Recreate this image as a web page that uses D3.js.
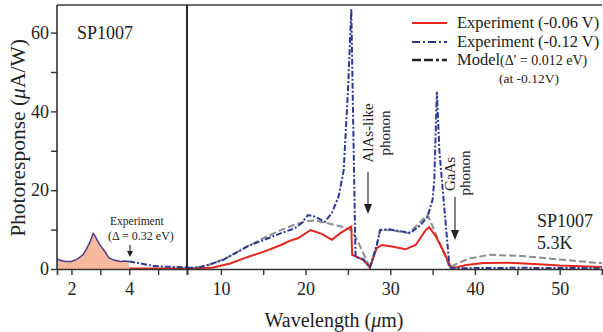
<!DOCTYPE html>
<html><head><meta charset="utf-8">
<script src="https://cdn.jsdelivr.net/npm/d3@7"></script>
<style>body{margin:0;background:#fff}svg{display:block}text{font-family:"Liberation Serif","Times New Roman",serif}</style>
</head><body>
<svg id="c" width="603" height="332"></svg>
<script>
// Left panel (short wavelength) experiment, filled region up to 4 um
const leftX = [1.5,1.6,1.8,2.0,2.2,2.4,2.55,2.65,2.75,2.8,2.9,3.0,3.15,3.3,3.5,3.7,3.85,4.0];
const leftY = [2.6,2.2,1.9,1.9,2.5,3.6,5.5,7.0,9.0,8.6,7.2,6.0,4.5,2.8,2.2,1.9,2.0,1.9];
const leftTailX = [4.0,4.4,4.8,5.2,5.6,6.0];
const leftTailY = [1.9,1.4,0.8,0.6,0.5,0.4];
const leftRedX = [4.0,6.0];
const leftRedY = [0.1,0.1];
// Right panel series
const blueX = [6.0,7.5,9.1,10.3,11.5,13.1,15.1,17.1,18.7,19.5,20.3,21.1,22.3,23.1,23.9,24.5,25.0,25.4,25.6,25.9,26.8,27.6,28.4,28.8,29.8,31.4,32.4,33.6,34.4,35.0,35.2,35.5,35.8,36.2,37.0,38,45,55];
const blueY = [0.3,0.4,1.5,2.3,3.8,5.7,7.4,9.1,10.3,11.6,13.7,13.3,12.0,14.2,18.4,25,45,66,40,3.1,2.5,0.4,6.1,9.9,10.1,9.5,9.2,11.2,13.3,17.6,22.6,45,30,20,0.4,0.2,0.3,0.2];
const redX = [6.0,7.5,9.1,11.1,13.1,15.1,17.1,18.2,19.1,20.6,21.9,23.1,24.1,25.4,25.5,26.8,27.6,28.4,29.0,30.2,31.8,33.0,34.2,34.6,35.4,36.4,37.2,38,39,41,44,47,50,55];
const redY = [0.1,0.2,0.4,1.4,3.0,4.4,6.1,7.2,7.8,9.9,8.9,7.4,9.1,10.8,3.6,2.3,0.4,5.3,6.1,5.7,5.0,6.1,9.9,10.6,8.2,4.0,0.2,0.5,1.0,1.5,1.6,1.3,0.9,0.5];
const modelX = [6.0,7,9,11,13,15,17,19,20.3,21,22.2,24.2,25.4,26.2,27.6,28.4,28.8,30.2,32.2,33.8,34.4,35.0,36.2,37.0,38,39.4,41.7,45.6,49.5,54.2,55];
const modelY = [0.1,0.3,1.3,3.2,5.6,7.8,9.8,11.5,12.2,12.3,11.8,10.8,9.9,6.9,0.4,5.7,9.9,9.8,9.1,12.5,13.7,10.8,4.8,0.4,1.5,2.7,3.6,3.3,2.5,1.6,1.5];
const leftTicks = [2,3,4,5];
const leftLabels = [2,4];
const rightTicks = [10,15,20,25,30,35,40,45,50,55];
const rightLabels = [10,20,30,40,50];
const yTicks = [0,10,20,30,40,50,60];
const yLabels = [0,20,40,60];

const svg = d3.select("#c");
const L=57, M=187, R=602, T=5, B=269;
const xL = d3.scaleLinear().domain([1.5,6]).range([L,M]);
const xR = d3.scaleLinear().domain([6,55]).range([M,R]);
const y = d3.scaleLinear().domain([0,67]).range([B,T]);

const defs = svg.append("defs");
defs.append("clipPath").attr("id","cl").append("rect").attr("x",L).attr("y",T).attr("width",M-L).attr("height",B-T);
defs.append("clipPath").attr("id","cr").append("rect").attr("x",M).attr("y",T).attr("width",R-M).attr("height",B-T);

const zip = (xs,ys)=>xs.map((d,i)=>[d,ys[i]]);
const lineL = d3.line().x(d=>xL(d[0])).y(d=>y(d[1]));
const lineR = d3.line().x(d=>xR(d[0])).y(d=>y(d[1]));
const areaL = d3.area().x(d=>xL(d[0])).y0(y(0)).y1(d=>y(d[1]));

const gl = svg.append("g").attr("clip-path","url(#cl)");
gl.append("path").attr("d",areaL(zip(leftX,leftY))).attr("fill","#f6b99d");
gl.append("path").attr("d",lineL(zip(leftRedX,leftRedY))).attr("fill","none").attr("stroke","#e3261f").attr("stroke-width",2.2);
gl.append("path").attr("d",lineL(zip(leftX,leftY))).attr("fill","none").attr("stroke","#4d3c86").attr("stroke-width",1.5);
gl.append("path").attr("d",lineL(zip(leftTailX,leftTailY))).attr("fill","none").attr("stroke","#2c3a94").attr("stroke-width",2).attr("stroke-dasharray","6,2,2,2");

const gr = svg.append("g").attr("clip-path","url(#cr)");
gr.append("path").attr("d",lineR(zip(modelX,modelY))).attr("fill","none").attr("stroke","#8d8d8d").attr("stroke-width",2).attr("stroke-dasharray","7,3");
gr.append("path").attr("d",lineR(zip(redX,redY))).attr("fill","none").attr("stroke","#e3261f").attr("stroke-width",2);
gr.append("path").attr("d",lineR(zip(blueX,blueY))).attr("fill","none").attr("stroke","#2c3a94").attr("stroke-width",2).attr("stroke-dasharray","6,2,2,2");

// frame
svg.append("line").attr("x1",L).attr("x2",R).attr("y1",T).attr("y2",T).attr("stroke","#6e6e6e").attr("stroke-width",2);
svg.append("line").attr("x1",M).attr("x2",M).attr("y1",T).attr("y2",B).attr("stroke","#111").attr("stroke-width",1.8);

// axes
const ax1 = svg.append("g").attr("transform",`translate(0,${B})`)
  .call(d3.axisBottom(xL).tickValues(leftTicks).tickFormat(d=>leftLabels.includes(d)?d:"").tickSizeOuter(0).tickSize(6));
const ax2 = svg.append("g").attr("transform",`translate(0,${B})`)
  .call(d3.axisBottom(xR).tickValues(rightTicks).tickFormat(d=>rightLabels.includes(d)?d:"").tickSizeOuter(0).tickSize(6));
const ay = svg.append("g").attr("transform",`translate(${L},0)`)
  .call(d3.axisLeft(y).tickValues(yTicks).tickFormat(d=>yLabels.includes(d)?d:"").tickSizeOuter(0).tickSize(6));
[ax1,ax2,ay].forEach(g=>{
  g.select(".domain").attr("stroke","#333").attr("stroke-width",1.6);
  g.selectAll(".tick line").attr("stroke","#333").attr("stroke-width",1.4);
  g.selectAll(".tick text").attr("font-family","Liberation Serif").attr("font-size",18).attr("fill","#222");
});
ay.select(".domain").attr("d",`M0,${B}V${T}`);
ax1.selectAll(".tick text").attr("dy","0.95em");
ax2.selectAll(".tick text").attr("dy","0.95em");
ay.selectAll(".tick text").attr("x",-8);

// axis titles
svg.append("text").attr("x",334).attr("y",327).attr("text-anchor","middle").attr("font-size",20).attr("fill","#222")
  .html('Wavelength (<tspan font-style="italic">μ</tspan>m)');
svg.append("text").attr("transform","translate(25,138) rotate(-90)").attr("text-anchor","middle").attr("font-size",21.5).attr("fill","#222")
  .html('Photoresponse (<tspan font-style="italic">μ</tspan>A/W)');

// annotations
svg.append("text").attr("x",77).attr("y",38.5).attr("font-size",18).attr("fill","#222").text("SP1007");
svg.append("text").attr("x",537).attr("y",227).attr("font-size",18).attr("fill","#222").text("SP1007");
svg.append("text").attr("x",537).attr("y",248.5).attr("font-size",18).attr("fill","#222").text("5.3K");
svg.append("text").attr("x",110).attr("y",225).attr("font-size",11.5).attr("fill","#222").text("Experiment");
svg.append("text").attr("x",108).attr("y",240).attr("font-size",12).attr("fill","#222").text("(Δ = 0.32 eV)");
svg.append("text").attr("transform","translate(373,133) rotate(-90)").attr("text-anchor","middle").attr("font-size",15).attr("fill","#222").text("AlAs-like");
svg.append("text").attr("transform","translate(390,133) rotate(-90)").attr("text-anchor","middle").attr("font-size",15).attr("fill","#222").text("phonon");
svg.append("text").attr("transform","translate(455,174) rotate(-90)").attr("text-anchor","middle").attr("font-size",15).attr("fill","#222").text("GaAs");
svg.append("text").attr("transform","translate(470,173) rotate(-90)").attr("text-anchor","middle").attr("font-size",15).attr("fill","#222").text("phonon");

function arrow(x,y1,y2,w,hl){
  svg.append("line").attr("x1",x).attr("x2",x).attr("y1",y1).attr("y2",y2-hl+1).attr("stroke","#333").attr("stroke-width",1.2);
  svg.append("path").attr("d",`M${x-w},${y2-hl}L${x+w},${y2-hl}L${x},${y2}Z`).attr("fill","#222");
}
arrow(130,245,257,3,6);
arrow(368,172,214,4,10);
arrow(455,197,240,4,10);

// legend
const lg = svg.append("g");
lg.append("line").attr("x1",412).attr("x2",447).attr("y1",23).attr("y2",23).attr("stroke","#e3261f").attr("stroke-width",2.2);
lg.append("line").attr("x1",412).attr("x2",447).attr("y1",42).attr("y2",42).attr("stroke","#2c3a94").attr("stroke-width",2.2).attr("stroke-dasharray","8,3,2,3");
lg.append("line").attr("x1",412).attr("x2",447).attr("y1",60).attr("y2",60).attr("stroke","#222").attr("stroke-width",2.4).attr("stroke-dasharray","9,3,9,3,3,3");
lg.append("text").attr("x",457).attr("y",28).attr("font-size",16.5).attr("fill","#222").text("Experiment (-0.06 V)");
lg.append("text").attr("x",457).attr("y",47).attr("font-size",16.5).attr("fill","#222").text("Experiment (-0.12 V)");
lg.append("text").attr("x",457).attr("y",65).attr("font-size",16.5).attr("fill","#222")
  .html('Model<tspan font-size="14">(Δ\' = 0.012 eV)</tspan>');
lg.append("text").attr("x",499).attr("y",83).attr("font-size",13.5).attr("fill","#222").text("(at -0.12V)");
</script>
</body></html>
